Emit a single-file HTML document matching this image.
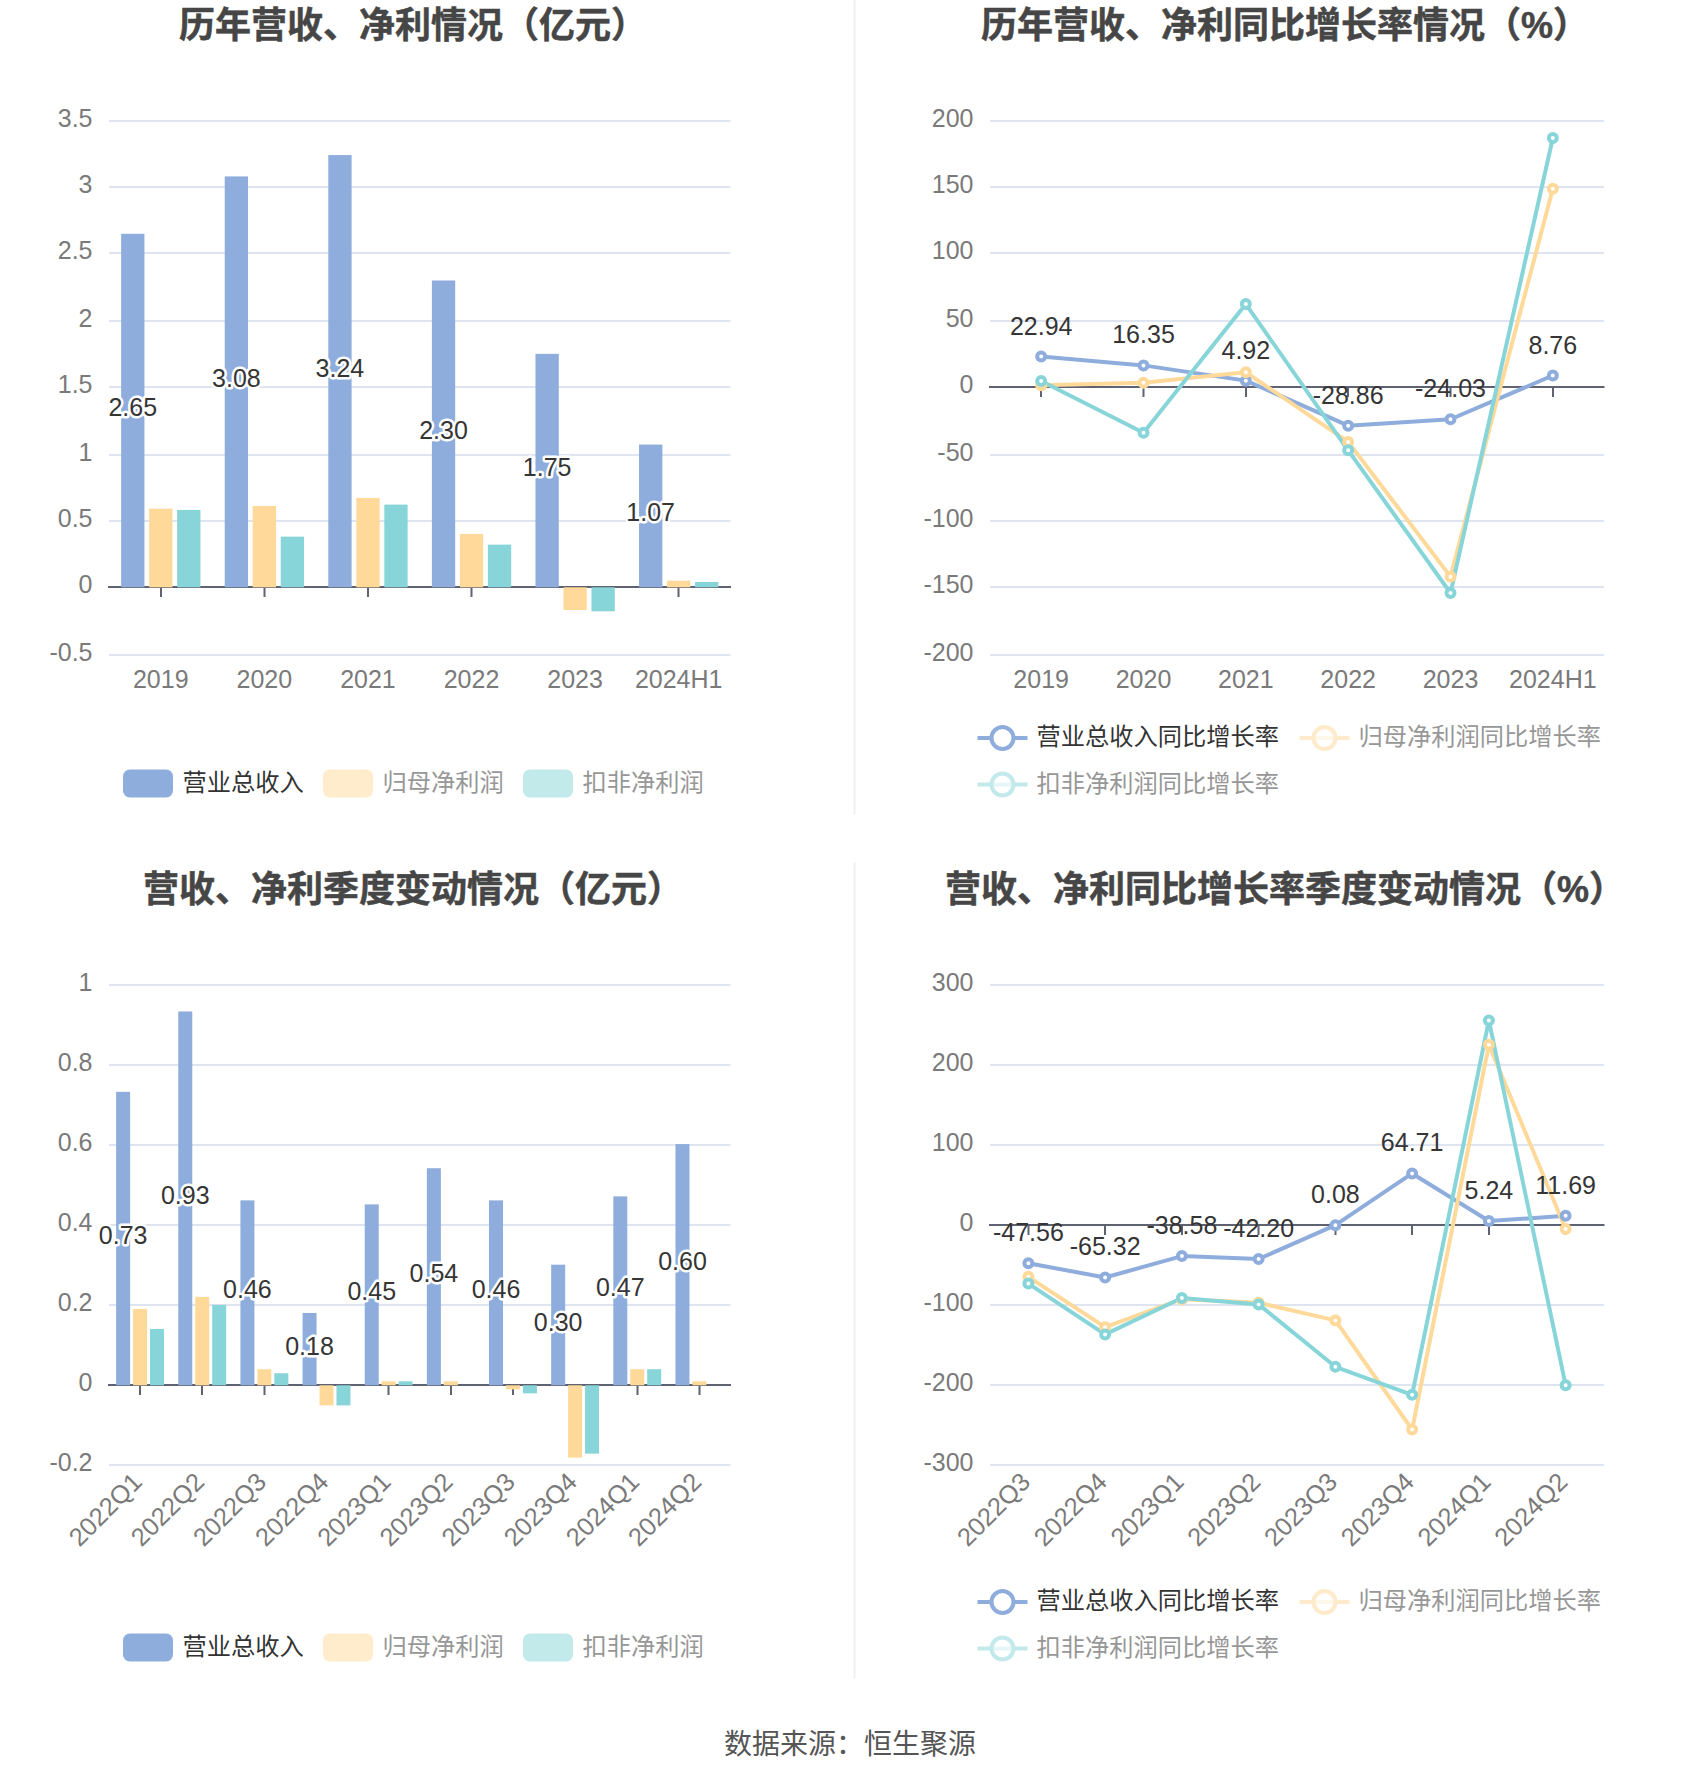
<!DOCTYPE html>
<html lang="zh-CN"><head><meta charset="utf-8"><title>营收、净利情况</title>
<style>html,body{margin:0;padding:0;background:#fff}body{width:1700px;height:1782px;overflow:hidden}svg{display:block}text{font-family:"Liberation Sans", "Noto Sans CJK SC", sans-serif}</style></head><body>
<svg width="1700" height="1782" viewBox="0 0 1700 1782">
<rect width="1700" height="1782" fill="#fff"/>
<rect x="853.5" y="0" width="2" height="814" fill="#EFEFEF"/>
<rect x="853.5" y="862" width="2" height="816" fill="#EFEFEF"/>
<text x="413" y="38" font-size="36" fill="#464646" text-anchor="middle" font-weight="bold" stroke="#464646" stroke-width="0.5">历年营收、净利情况（亿元）</text>
<rect x="109" y="120" width="621.5" height="2" fill="#DEE4F0"/>
<text x="92.5" y="126.5" font-size="25" fill="#7a7a7a" text-anchor="end">3.5</text>
<rect x="109" y="186" width="621.5" height="2" fill="#DEE4F0"/>
<text x="92.5" y="192.5" font-size="25" fill="#7a7a7a" text-anchor="end">3</text>
<rect x="109" y="252" width="621.5" height="2" fill="#DEE4F0"/>
<text x="92.5" y="258.5" font-size="25" fill="#7a7a7a" text-anchor="end">2.5</text>
<rect x="109" y="320" width="621.5" height="2" fill="#DEE4F0"/>
<text x="92.5" y="326.5" font-size="25" fill="#7a7a7a" text-anchor="end">2</text>
<rect x="109" y="386" width="621.5" height="2" fill="#DEE4F0"/>
<text x="92.5" y="392.5" font-size="25" fill="#7a7a7a" text-anchor="end">1.5</text>
<rect x="109" y="454" width="621.5" height="2" fill="#DEE4F0"/>
<text x="92.5" y="460.5" font-size="25" fill="#7a7a7a" text-anchor="end">1</text>
<rect x="109" y="520" width="621.5" height="2" fill="#DEE4F0"/>
<text x="92.5" y="526.5" font-size="25" fill="#7a7a7a" text-anchor="end">0.5</text>
<text x="92.5" y="592.5" font-size="25" fill="#7a7a7a" text-anchor="end">0</text>
<rect x="109" y="654" width="621.5" height="2" fill="#DEE4F0"/>
<text x="92.5" y="660.5" font-size="25" fill="#7a7a7a" text-anchor="end">-0.5</text>
<rect x="108" y="586" width="623" height="2" fill="#5F6270"/>
<rect x="160" y="587" width="2" height="10" fill="#5F6270"/>
<rect x="263.5" y="587" width="2" height="10" fill="#5F6270"/>
<rect x="367" y="587" width="2" height="10" fill="#5F6270"/>
<rect x="470.5" y="587" width="2" height="10" fill="#5F6270"/>
<rect x="574" y="587" width="2" height="10" fill="#5F6270"/>
<rect x="677.5" y="587" width="2" height="10" fill="#5F6270"/>
<rect x="121.14" y="233.79" width="23.3" height="353.51" fill="#8EADDC"/>
<rect x="149.14" y="508.59" width="23.3" height="78.71" fill="#FFD999"/>
<rect x="177.14" y="509.93" width="23.3" height="77.37" fill="#87D5D8"/>
<rect x="224.72" y="176.43" width="23.3" height="410.87" fill="#8EADDC"/>
<rect x="252.72" y="505.93" width="23.3" height="81.37" fill="#FFD999"/>
<rect x="280.73" y="536.61" width="23.3" height="50.69" fill="#87D5D8"/>
<rect x="328.31" y="155.08" width="23.3" height="432.22" fill="#8EADDC"/>
<rect x="356.31" y="497.92" width="23.3" height="89.38" fill="#FFD999"/>
<rect x="384.31" y="504.59" width="23.3" height="82.71" fill="#87D5D8"/>
<rect x="431.89" y="280.48" width="23.3" height="306.82" fill="#8EADDC"/>
<rect x="459.89" y="533.94" width="23.3" height="53.36" fill="#FFD999"/>
<rect x="487.89" y="544.61" width="23.3" height="42.69" fill="#87D5D8"/>
<rect x="535.48" y="353.85" width="23.3" height="233.45" fill="#8EADDC"/>
<rect x="563.48" y="587.3" width="23.3" height="22.68" fill="#FFD999"/>
<rect x="591.48" y="587.3" width="23.3" height="24.01" fill="#87D5D8"/>
<rect x="639.06" y="444.56" width="23.3" height="142.74" fill="#8EADDC"/>
<rect x="667.06" y="580.63" width="23.3" height="6.67" fill="#FFD999"/>
<rect x="695.06" y="581.96" width="23.3" height="5.34" fill="#87D5D8"/>
<text x="132.79" y="416.04" font-size="25" fill="#353535" text-anchor="middle" stroke="#fff" stroke-width="5" stroke-linejoin="round" paint-order="stroke">2.65</text>
<text x="236.38" y="387.36" font-size="25" fill="#353535" text-anchor="middle" stroke="#fff" stroke-width="5" stroke-linejoin="round" paint-order="stroke">3.08</text>
<text x="339.96" y="376.69" font-size="25" fill="#353535" text-anchor="middle" stroke="#fff" stroke-width="5" stroke-linejoin="round" paint-order="stroke">3.24</text>
<text x="443.54" y="439.39" font-size="25" fill="#353535" text-anchor="middle" stroke="#fff" stroke-width="5" stroke-linejoin="round" paint-order="stroke">2.30</text>
<text x="547.12" y="476.07" font-size="25" fill="#353535" text-anchor="middle" stroke="#fff" stroke-width="5" stroke-linejoin="round" paint-order="stroke">1.75</text>
<text x="650.71" y="521.43" font-size="25" fill="#353535" text-anchor="middle" stroke="#fff" stroke-width="5" stroke-linejoin="round" paint-order="stroke">1.07</text>
<text x="160.79" y="688" font-size="25" fill="#7a7a7a" text-anchor="middle">2019</text>
<text x="264.38" y="688" font-size="25" fill="#7a7a7a" text-anchor="middle">2020</text>
<text x="367.96" y="688" font-size="25" fill="#7a7a7a" text-anchor="middle">2021</text>
<text x="471.54" y="688" font-size="25" fill="#7a7a7a" text-anchor="middle">2022</text>
<text x="575.12" y="688" font-size="25" fill="#7a7a7a" text-anchor="middle">2023</text>
<text x="678.71" y="688" font-size="25" fill="#7a7a7a" text-anchor="middle">2024H1</text>
<rect x="123" y="769.5" width="50" height="28" rx="7" ry="7" fill="#8EADDC"/>
<text x="182.5" y="791" font-size="24.25" fill="#333333" text-anchor="start">营业总收入</text>
<rect x="323" y="769.5" width="50" height="28" rx="7" ry="7" fill="#FFECCC"/>
<text x="382.5" y="791" font-size="24.25" fill="#979797" text-anchor="start">归母净利润</text>
<rect x="523" y="769.5" width="50" height="28" rx="7" ry="7" fill="#C3EAEB"/>
<text x="582.5" y="791" font-size="24.25" fill="#979797" text-anchor="start">扣非净利润</text>
<text x="1285" y="38" font-size="36" fill="#464646" text-anchor="middle" font-weight="bold" stroke="#464646" stroke-width="0.5">历年营收、净利同比增长率情况（%）</text>
<rect x="990" y="120" width="614" height="2" fill="#DEE4F0"/>
<text x="973.5" y="126.5" font-size="25" fill="#7a7a7a" text-anchor="end">200</text>
<rect x="990" y="186" width="614" height="2" fill="#DEE4F0"/>
<text x="973.5" y="192.5" font-size="25" fill="#7a7a7a" text-anchor="end">150</text>
<rect x="990" y="252" width="614" height="2" fill="#DEE4F0"/>
<text x="973.5" y="258.5" font-size="25" fill="#7a7a7a" text-anchor="end">100</text>
<rect x="990" y="320" width="614" height="2" fill="#DEE4F0"/>
<text x="973.5" y="326.5" font-size="25" fill="#7a7a7a" text-anchor="end">50</text>
<text x="973.5" y="392.5" font-size="25" fill="#7a7a7a" text-anchor="end">0</text>
<rect x="990" y="454" width="614" height="2" fill="#DEE4F0"/>
<text x="973.5" y="460.5" font-size="25" fill="#7a7a7a" text-anchor="end">-50</text>
<rect x="990" y="520" width="614" height="2" fill="#DEE4F0"/>
<text x="973.5" y="526.5" font-size="25" fill="#7a7a7a" text-anchor="end">-100</text>
<rect x="990" y="586" width="614" height="2" fill="#DEE4F0"/>
<text x="973.5" y="592.5" font-size="25" fill="#7a7a7a" text-anchor="end">-150</text>
<rect x="990" y="654" width="614" height="2" fill="#DEE4F0"/>
<text x="973.5" y="660.5" font-size="25" fill="#7a7a7a" text-anchor="end">-200</text>
<rect x="989" y="386" width="615.5" height="2" fill="#5F6270"/>
<rect x="1040" y="387" width="2" height="10" fill="#5F6270"/>
<rect x="1142.5" y="387" width="2" height="10" fill="#5F6270"/>
<rect x="1245" y="387" width="2" height="10" fill="#5F6270"/>
<rect x="1347" y="387" width="2" height="10" fill="#5F6270"/>
<rect x="1449.5" y="387" width="2" height="10" fill="#5F6270"/>
<rect x="1552" y="387" width="2" height="10" fill="#5F6270"/>
<polyline points="1041.17,356.6 1143.5,365.39 1245.83,380.64 1348.17,425.7 1450.5,419.26 1552.83,375.51" fill="none" stroke="#8EADDC" stroke-width="4" stroke-linejoin="bevel"/>
<polyline points="1041.17,385.2 1143.5,382.8 1245.83,372.26 1348.17,441.89 1450.5,576.63 1552.83,188.7" fill="none" stroke="#FFD999" stroke-width="4" stroke-linejoin="bevel"/>
<polyline points="1041.17,381.06 1143.5,432.82 1245.83,304.09 1348.17,450.3 1450.5,593.04 1552.83,138.01" fill="none" stroke="#87D5D8" stroke-width="4" stroke-linejoin="bevel"/>
<circle cx="1041.17" cy="356.6" r="4" fill="#fff" stroke="#8EADDC" stroke-width="4"/>
<circle cx="1143.5" cy="365.39" r="4" fill="#fff" stroke="#8EADDC" stroke-width="4"/>
<circle cx="1245.83" cy="380.64" r="4" fill="#fff" stroke="#8EADDC" stroke-width="4"/>
<circle cx="1348.17" cy="425.7" r="4" fill="#fff" stroke="#8EADDC" stroke-width="4"/>
<circle cx="1450.5" cy="419.26" r="4" fill="#fff" stroke="#8EADDC" stroke-width="4"/>
<circle cx="1552.83" cy="375.51" r="4" fill="#fff" stroke="#8EADDC" stroke-width="4"/>
<circle cx="1041.17" cy="385.2" r="4" fill="#fff" stroke="#FFD999" stroke-width="4"/>
<circle cx="1143.5" cy="382.8" r="4" fill="#fff" stroke="#FFD999" stroke-width="4"/>
<circle cx="1245.83" cy="372.26" r="4" fill="#fff" stroke="#FFD999" stroke-width="4"/>
<circle cx="1348.17" cy="441.89" r="4" fill="#fff" stroke="#FFD999" stroke-width="4"/>
<circle cx="1450.5" cy="576.63" r="4" fill="#fff" stroke="#FFD999" stroke-width="4"/>
<circle cx="1552.83" cy="188.7" r="4" fill="#fff" stroke="#FFD999" stroke-width="4"/>
<circle cx="1041.17" cy="381.06" r="4" fill="#fff" stroke="#87D5D8" stroke-width="4"/>
<circle cx="1143.5" cy="432.82" r="4" fill="#fff" stroke="#87D5D8" stroke-width="4"/>
<circle cx="1245.83" cy="304.09" r="4" fill="#fff" stroke="#87D5D8" stroke-width="4"/>
<circle cx="1348.17" cy="450.3" r="4" fill="#fff" stroke="#87D5D8" stroke-width="4"/>
<circle cx="1450.5" cy="593.04" r="4" fill="#fff" stroke="#87D5D8" stroke-width="4"/>
<circle cx="1552.83" cy="138.01" r="4" fill="#fff" stroke="#87D5D8" stroke-width="4"/>
<text x="1041.17" y="334.6" font-size="25" fill="#353535" text-anchor="middle">22.94</text>
<text x="1143.5" y="343.39" font-size="25" fill="#353535" text-anchor="middle">16.35</text>
<text x="1245.83" y="358.64" font-size="25" fill="#353535" text-anchor="middle">4.92</text>
<text x="1348.17" y="403.7" font-size="25" fill="#353535" text-anchor="middle">-28.86</text>
<text x="1450.5" y="397.26" font-size="25" fill="#353535" text-anchor="middle">-24.03</text>
<text x="1552.83" y="353.51" font-size="25" fill="#353535" text-anchor="middle">8.76</text>
<text x="1041.17" y="688" font-size="25" fill="#7a7a7a" text-anchor="middle">2019</text>
<text x="1143.5" y="688" font-size="25" fill="#7a7a7a" text-anchor="middle">2020</text>
<text x="1245.83" y="688" font-size="25" fill="#7a7a7a" text-anchor="middle">2021</text>
<text x="1348.17" y="688" font-size="25" fill="#7a7a7a" text-anchor="middle">2022</text>
<text x="1450.5" y="688" font-size="25" fill="#7a7a7a" text-anchor="middle">2023</text>
<text x="1552.83" y="688" font-size="25" fill="#7a7a7a" text-anchor="middle">2024H1</text>
<g>
<rect x="977.5" y="736" width="50" height="4" fill="#8EADDC"/>
<circle cx="1002.5" cy="738" r="11" fill="#fff" stroke="#8EADDC" stroke-width="4"/>
</g>
<text x="1036.5" y="745" font-size="24.25" fill="#333333" text-anchor="start">营业总收入同比增长率</text>
<g opacity="0.5">
<rect x="1299.5" y="736" width="50" height="4" fill="#FFD999"/>
<circle cx="1324.5" cy="738" r="11" fill="#fff" stroke="#FFD999" stroke-width="4" fill-opacity="0.6"/>
</g>
<text x="1358.5" y="745" font-size="24.25" fill="#979797" text-anchor="start">归母净利润同比增长率</text>
<g opacity="0.5">
<rect x="977.5" y="782.5" width="50" height="4" fill="#87D5D8"/>
<circle cx="1002.5" cy="784.5" r="11" fill="#fff" stroke="#87D5D8" stroke-width="4" fill-opacity="0.6"/>
</g>
<text x="1036.5" y="791.5" font-size="24.25" fill="#979797" text-anchor="start">扣非净利润同比增长率</text>
<text x="413" y="902" font-size="36" fill="#464646" text-anchor="middle" font-weight="bold" stroke="#464646" stroke-width="0.5">营收、净利季度变动情况（亿元）</text>
<rect x="109" y="984" width="621.5" height="2" fill="#DEE4F0"/>
<text x="92.5" y="990.5" font-size="25" fill="#7a7a7a" text-anchor="end">1</text>
<rect x="109" y="1064" width="621.5" height="2" fill="#DEE4F0"/>
<text x="92.5" y="1070.5" font-size="25" fill="#7a7a7a" text-anchor="end">0.8</text>
<rect x="109" y="1144" width="621.5" height="2" fill="#DEE4F0"/>
<text x="92.5" y="1150.5" font-size="25" fill="#7a7a7a" text-anchor="end">0.6</text>
<rect x="109" y="1224" width="621.5" height="2" fill="#DEE4F0"/>
<text x="92.5" y="1230.5" font-size="25" fill="#7a7a7a" text-anchor="end">0.4</text>
<rect x="109" y="1304" width="621.5" height="2" fill="#DEE4F0"/>
<text x="92.5" y="1310.5" font-size="25" fill="#7a7a7a" text-anchor="end">0.2</text>
<text x="92.5" y="1390.5" font-size="25" fill="#7a7a7a" text-anchor="end">0</text>
<rect x="109" y="1464" width="621.5" height="2" fill="#DEE4F0"/>
<text x="92.5" y="1470.5" font-size="25" fill="#7a7a7a" text-anchor="end">-0.2</text>
<rect x="108" y="1384" width="623" height="2" fill="#5F6270"/>
<rect x="139" y="1385" width="2" height="10" fill="#5F6270"/>
<rect x="201" y="1385" width="2" height="10" fill="#5F6270"/>
<rect x="263.5" y="1385" width="2" height="10" fill="#5F6270"/>
<rect x="325.5" y="1385" width="2" height="10" fill="#5F6270"/>
<rect x="387.5" y="1385" width="2" height="10" fill="#5F6270"/>
<rect x="450" y="1385" width="2" height="10" fill="#5F6270"/>
<rect x="512" y="1385" width="2" height="10" fill="#5F6270"/>
<rect x="574" y="1385" width="2" height="10" fill="#5F6270"/>
<rect x="636.5" y="1385" width="2" height="10" fill="#5F6270"/>
<rect x="698.5" y="1385" width="2" height="10" fill="#5F6270"/>
<rect x="116.12" y="1091.84" width="14" height="293.46" fill="#8EADDC"/>
<rect x="133.07" y="1308.92" width="14" height="76.38" fill="#FFD999"/>
<rect x="150.02" y="1329.02" width="14" height="56.28" fill="#87D5D8"/>
<rect x="178.28" y="1011.44" width="14" height="373.86" fill="#8EADDC"/>
<rect x="195.22" y="1296.86" width="14" height="88.44" fill="#FFD999"/>
<rect x="212.18" y="1304.9" width="14" height="80.4" fill="#87D5D8"/>
<rect x="240.43" y="1200.38" width="14" height="184.92" fill="#8EADDC"/>
<rect x="257.38" y="1369.22" width="14" height="16.08" fill="#FFD999"/>
<rect x="274.32" y="1373.24" width="14" height="12.06" fill="#87D5D8"/>
<rect x="302.57" y="1312.94" width="14" height="72.36" fill="#8EADDC"/>
<rect x="319.52" y="1385.3" width="14" height="20.1" fill="#FFD999"/>
<rect x="336.47" y="1385.3" width="14" height="20.1" fill="#87D5D8"/>
<rect x="364.73" y="1204.4" width="14" height="180.9" fill="#8EADDC"/>
<rect x="381.68" y="1381.28" width="14" height="4.02" fill="#FFD999"/>
<rect x="398.62" y="1381.28" width="14" height="4.02" fill="#87D5D8"/>
<rect x="426.88" y="1168.22" width="14" height="217.08" fill="#8EADDC"/>
<rect x="443.82" y="1381.28" width="14" height="4.02" fill="#FFD999"/>
<rect x="489.02" y="1200.38" width="14" height="184.92" fill="#8EADDC"/>
<rect x="505.97" y="1385.3" width="14" height="4.02" fill="#FFD999"/>
<rect x="522.92" y="1385.3" width="14" height="8.04" fill="#87D5D8"/>
<rect x="551.17" y="1264.7" width="14" height="120.6" fill="#8EADDC"/>
<rect x="568.12" y="1385.3" width="14" height="72.36" fill="#FFD999"/>
<rect x="585.07" y="1385.3" width="14" height="68.34" fill="#87D5D8"/>
<rect x="613.32" y="1196.36" width="14" height="188.94" fill="#8EADDC"/>
<rect x="630.27" y="1369.22" width="14" height="16.08" fill="#FFD999"/>
<rect x="647.22" y="1369.22" width="14" height="16.08" fill="#87D5D8"/>
<rect x="675.47" y="1144.1" width="14" height="241.2" fill="#8EADDC"/>
<rect x="692.42" y="1381.28" width="14" height="4.02" fill="#FFD999"/>
<text x="123.12" y="1244.07" font-size="25" fill="#353535" text-anchor="middle" stroke="#fff" stroke-width="5" stroke-linejoin="round" paint-order="stroke">0.73</text>
<text x="185.28" y="1203.87" font-size="25" fill="#353535" text-anchor="middle" stroke="#fff" stroke-width="5" stroke-linejoin="round" paint-order="stroke">0.93</text>
<text x="247.43" y="1298.34" font-size="25" fill="#353535" text-anchor="middle" stroke="#fff" stroke-width="5" stroke-linejoin="round" paint-order="stroke">0.46</text>
<text x="309.57" y="1354.62" font-size="25" fill="#353535" text-anchor="middle" stroke="#fff" stroke-width="5" stroke-linejoin="round" paint-order="stroke">0.18</text>
<text x="371.73" y="1300.35" font-size="25" fill="#353535" text-anchor="middle" stroke="#fff" stroke-width="5" stroke-linejoin="round" paint-order="stroke">0.45</text>
<text x="433.88" y="1282.26" font-size="25" fill="#353535" text-anchor="middle" stroke="#fff" stroke-width="5" stroke-linejoin="round" paint-order="stroke">0.54</text>
<text x="496.02" y="1298.34" font-size="25" fill="#353535" text-anchor="middle" stroke="#fff" stroke-width="5" stroke-linejoin="round" paint-order="stroke">0.46</text>
<text x="558.17" y="1330.5" font-size="25" fill="#353535" text-anchor="middle" stroke="#fff" stroke-width="5" stroke-linejoin="round" paint-order="stroke">0.30</text>
<text x="620.32" y="1296.33" font-size="25" fill="#353535" text-anchor="middle" stroke="#fff" stroke-width="5" stroke-linejoin="round" paint-order="stroke">0.47</text>
<text x="682.47" y="1270.2" font-size="25" fill="#353535" text-anchor="middle" stroke="#fff" stroke-width="5" stroke-linejoin="round" paint-order="stroke">0.60</text>
<text x="137.57" y="1477.5" font-size="25.5" fill="#7a7a7a" text-anchor="end" transform="rotate(-45 137.57 1477.5)" dy="8.5">2022Q1</text>
<text x="199.72" y="1477.5" font-size="25.5" fill="#7a7a7a" text-anchor="end" transform="rotate(-45 199.72 1477.5)" dy="8.5">2022Q2</text>
<text x="261.88" y="1477.5" font-size="25.5" fill="#7a7a7a" text-anchor="end" transform="rotate(-45 261.88 1477.5)" dy="8.5">2022Q3</text>
<text x="324.02" y="1477.5" font-size="25.5" fill="#7a7a7a" text-anchor="end" transform="rotate(-45 324.02 1477.5)" dy="8.5">2022Q4</text>
<text x="386.18" y="1477.5" font-size="25.5" fill="#7a7a7a" text-anchor="end" transform="rotate(-45 386.18 1477.5)" dy="8.5">2023Q1</text>
<text x="448.32" y="1477.5" font-size="25.5" fill="#7a7a7a" text-anchor="end" transform="rotate(-45 448.32 1477.5)" dy="8.5">2023Q2</text>
<text x="510.47" y="1477.5" font-size="25.5" fill="#7a7a7a" text-anchor="end" transform="rotate(-45 510.47 1477.5)" dy="8.5">2023Q3</text>
<text x="572.62" y="1477.5" font-size="25.5" fill="#7a7a7a" text-anchor="end" transform="rotate(-45 572.62 1477.5)" dy="8.5">2023Q4</text>
<text x="634.77" y="1477.5" font-size="25.5" fill="#7a7a7a" text-anchor="end" transform="rotate(-45 634.77 1477.5)" dy="8.5">2024Q1</text>
<text x="696.92" y="1477.5" font-size="25.5" fill="#7a7a7a" text-anchor="end" transform="rotate(-45 696.92 1477.5)" dy="8.5">2024Q2</text>
<rect x="123" y="1633.5" width="50" height="28" rx="7" ry="7" fill="#8EADDC"/>
<text x="182.5" y="1655" font-size="24.25" fill="#333333" text-anchor="start">营业总收入</text>
<rect x="323" y="1633.5" width="50" height="28" rx="7" ry="7" fill="#FFECCC"/>
<text x="382.5" y="1655" font-size="24.25" fill="#979797" text-anchor="start">归母净利润</text>
<rect x="523" y="1633.5" width="50" height="28" rx="7" ry="7" fill="#C3EAEB"/>
<text x="582.5" y="1655" font-size="24.25" fill="#979797" text-anchor="start">扣非净利润</text>
<text x="1285" y="902" font-size="36" fill="#464646" text-anchor="middle" font-weight="bold" stroke="#464646" stroke-width="0.5">营收、净利同比增长率季度变动情况（%）</text>
<rect x="990" y="984" width="614" height="2" fill="#DEE4F0"/>
<text x="973.5" y="990.5" font-size="25" fill="#7a7a7a" text-anchor="end">300</text>
<rect x="990" y="1064" width="614" height="2" fill="#DEE4F0"/>
<text x="973.5" y="1070.5" font-size="25" fill="#7a7a7a" text-anchor="end">200</text>
<rect x="990" y="1144" width="614" height="2" fill="#DEE4F0"/>
<text x="973.5" y="1150.5" font-size="25" fill="#7a7a7a" text-anchor="end">100</text>
<text x="973.5" y="1230.5" font-size="25" fill="#7a7a7a" text-anchor="end">0</text>
<rect x="990" y="1304" width="614" height="2" fill="#DEE4F0"/>
<text x="973.5" y="1310.5" font-size="25" fill="#7a7a7a" text-anchor="end">-100</text>
<rect x="990" y="1384" width="614" height="2" fill="#DEE4F0"/>
<text x="973.5" y="1390.5" font-size="25" fill="#7a7a7a" text-anchor="end">-200</text>
<rect x="990" y="1464" width="614" height="2" fill="#DEE4F0"/>
<text x="973.5" y="1470.5" font-size="25" fill="#7a7a7a" text-anchor="end">-300</text>
<rect x="989" y="1224" width="615.5" height="2" fill="#5F6270"/>
<rect x="1027.5" y="1225" width="2" height="10" fill="#5F6270"/>
<rect x="1104" y="1225" width="2" height="10" fill="#5F6270"/>
<rect x="1181" y="1225" width="2" height="10" fill="#5F6270"/>
<rect x="1257.5" y="1225" width="2" height="10" fill="#5F6270"/>
<rect x="1334.5" y="1225" width="2" height="10" fill="#5F6270"/>
<rect x="1411" y="1225" width="2" height="10" fill="#5F6270"/>
<rect x="1488" y="1225" width="2" height="10" fill="#5F6270"/>
<rect x="1564.5" y="1225" width="2" height="10" fill="#5F6270"/>
<polyline points="1028.38,1263.25 1105.12,1277.46 1181.88,1256.06 1258.62,1258.96 1335.38,1225.14 1412.12,1173.43 1488.88,1221.01 1565.62,1215.85" fill="none" stroke="#8EADDC" stroke-width="4" stroke-linejoin="bevel"/>
<polyline points="1028.38,1276.8 1105.12,1327.2 1181.88,1299.2 1258.62,1302.8 1335.38,1320.4 1412.12,1429.6 1488.88,1044.8 1565.62,1229.04" fill="none" stroke="#FFD999" stroke-width="4" stroke-linejoin="bevel"/>
<polyline points="1028.38,1283.6 1105.12,1334.4 1181.88,1298 1258.62,1304.4 1335.38,1366.8 1412.12,1394.8 1488.88,1020.4 1565.62,1385.2" fill="none" stroke="#87D5D8" stroke-width="4" stroke-linejoin="bevel"/>
<circle cx="1028.38" cy="1263.25" r="4" fill="#fff" stroke="#8EADDC" stroke-width="4"/>
<circle cx="1105.12" cy="1277.46" r="4" fill="#fff" stroke="#8EADDC" stroke-width="4"/>
<circle cx="1181.88" cy="1256.06" r="4" fill="#fff" stroke="#8EADDC" stroke-width="4"/>
<circle cx="1258.62" cy="1258.96" r="4" fill="#fff" stroke="#8EADDC" stroke-width="4"/>
<circle cx="1335.38" cy="1225.14" r="4" fill="#fff" stroke="#8EADDC" stroke-width="4"/>
<circle cx="1412.12" cy="1173.43" r="4" fill="#fff" stroke="#8EADDC" stroke-width="4"/>
<circle cx="1488.88" cy="1221.01" r="4" fill="#fff" stroke="#8EADDC" stroke-width="4"/>
<circle cx="1565.62" cy="1215.85" r="4" fill="#fff" stroke="#8EADDC" stroke-width="4"/>
<circle cx="1028.38" cy="1276.8" r="4" fill="#fff" stroke="#FFD999" stroke-width="4"/>
<circle cx="1105.12" cy="1327.2" r="4" fill="#fff" stroke="#FFD999" stroke-width="4"/>
<circle cx="1181.88" cy="1299.2" r="4" fill="#fff" stroke="#FFD999" stroke-width="4"/>
<circle cx="1258.62" cy="1302.8" r="4" fill="#fff" stroke="#FFD999" stroke-width="4"/>
<circle cx="1335.38" cy="1320.4" r="4" fill="#fff" stroke="#FFD999" stroke-width="4"/>
<circle cx="1412.12" cy="1429.6" r="4" fill="#fff" stroke="#FFD999" stroke-width="4"/>
<circle cx="1488.88" cy="1044.8" r="4" fill="#fff" stroke="#FFD999" stroke-width="4"/>
<circle cx="1565.62" cy="1229.04" r="4" fill="#fff" stroke="#FFD999" stroke-width="4"/>
<circle cx="1028.38" cy="1283.6" r="4" fill="#fff" stroke="#87D5D8" stroke-width="4"/>
<circle cx="1105.12" cy="1334.4" r="4" fill="#fff" stroke="#87D5D8" stroke-width="4"/>
<circle cx="1181.88" cy="1298" r="4" fill="#fff" stroke="#87D5D8" stroke-width="4"/>
<circle cx="1258.62" cy="1304.4" r="4" fill="#fff" stroke="#87D5D8" stroke-width="4"/>
<circle cx="1335.38" cy="1366.8" r="4" fill="#fff" stroke="#87D5D8" stroke-width="4"/>
<circle cx="1412.12" cy="1394.8" r="4" fill="#fff" stroke="#87D5D8" stroke-width="4"/>
<circle cx="1488.88" cy="1020.4" r="4" fill="#fff" stroke="#87D5D8" stroke-width="4"/>
<circle cx="1565.62" cy="1385.2" r="4" fill="#fff" stroke="#87D5D8" stroke-width="4"/>
<text x="1028.38" y="1241.25" font-size="25" fill="#353535" text-anchor="middle">-47.56</text>
<text x="1105.12" y="1255.46" font-size="25" fill="#353535" text-anchor="middle">-65.32</text>
<text x="1181.88" y="1234.06" font-size="25" fill="#353535" text-anchor="middle">-38.58</text>
<text x="1258.62" y="1236.96" font-size="25" fill="#353535" text-anchor="middle">-42.20</text>
<text x="1335.38" y="1203.14" font-size="25" fill="#353535" text-anchor="middle">0.08</text>
<text x="1412.12" y="1151.43" font-size="25" fill="#353535" text-anchor="middle">64.71</text>
<text x="1488.88" y="1199.01" font-size="25" fill="#353535" text-anchor="middle">5.24</text>
<text x="1565.62" y="1193.85" font-size="25" fill="#353535" text-anchor="middle">11.69</text>
<text x="1025.88" y="1477.5" font-size="25.5" fill="#7a7a7a" text-anchor="end" transform="rotate(-45 1025.88 1477.5)" dy="8.5">2022Q3</text>
<text x="1102.62" y="1477.5" font-size="25.5" fill="#7a7a7a" text-anchor="end" transform="rotate(-45 1102.62 1477.5)" dy="8.5">2022Q4</text>
<text x="1179.38" y="1477.5" font-size="25.5" fill="#7a7a7a" text-anchor="end" transform="rotate(-45 1179.38 1477.5)" dy="8.5">2023Q1</text>
<text x="1256.12" y="1477.5" font-size="25.5" fill="#7a7a7a" text-anchor="end" transform="rotate(-45 1256.12 1477.5)" dy="8.5">2023Q2</text>
<text x="1332.88" y="1477.5" font-size="25.5" fill="#7a7a7a" text-anchor="end" transform="rotate(-45 1332.88 1477.5)" dy="8.5">2023Q3</text>
<text x="1409.62" y="1477.5" font-size="25.5" fill="#7a7a7a" text-anchor="end" transform="rotate(-45 1409.62 1477.5)" dy="8.5">2023Q4</text>
<text x="1486.38" y="1477.5" font-size="25.5" fill="#7a7a7a" text-anchor="end" transform="rotate(-45 1486.38 1477.5)" dy="8.5">2024Q1</text>
<text x="1563.12" y="1477.5" font-size="25.5" fill="#7a7a7a" text-anchor="end" transform="rotate(-45 1563.12 1477.5)" dy="8.5">2024Q2</text>
<g>
<rect x="977.5" y="1600" width="50" height="4" fill="#8EADDC"/>
<circle cx="1002.5" cy="1602" r="11" fill="#fff" stroke="#8EADDC" stroke-width="4"/>
</g>
<text x="1036.5" y="1609" font-size="24.25" fill="#333333" text-anchor="start">营业总收入同比增长率</text>
<g opacity="0.5">
<rect x="1299.5" y="1600" width="50" height="4" fill="#FFD999"/>
<circle cx="1324.5" cy="1602" r="11" fill="#fff" stroke="#FFD999" stroke-width="4" fill-opacity="0.6"/>
</g>
<text x="1358.5" y="1609" font-size="24.25" fill="#979797" text-anchor="start">归母净利润同比增长率</text>
<g opacity="0.5">
<rect x="977.5" y="1646.5" width="50" height="4" fill="#87D5D8"/>
<circle cx="1002.5" cy="1648.5" r="11" fill="#fff" stroke="#87D5D8" stroke-width="4" fill-opacity="0.6"/>
</g>
<text x="1036.5" y="1655.5" font-size="24.25" fill="#979797" text-anchor="start">扣非净利润同比增长率</text>
<text x="850" y="1753.5" font-size="28" fill="#555555" text-anchor="middle">数据来源：恒生聚源</text>
</svg></body></html>
